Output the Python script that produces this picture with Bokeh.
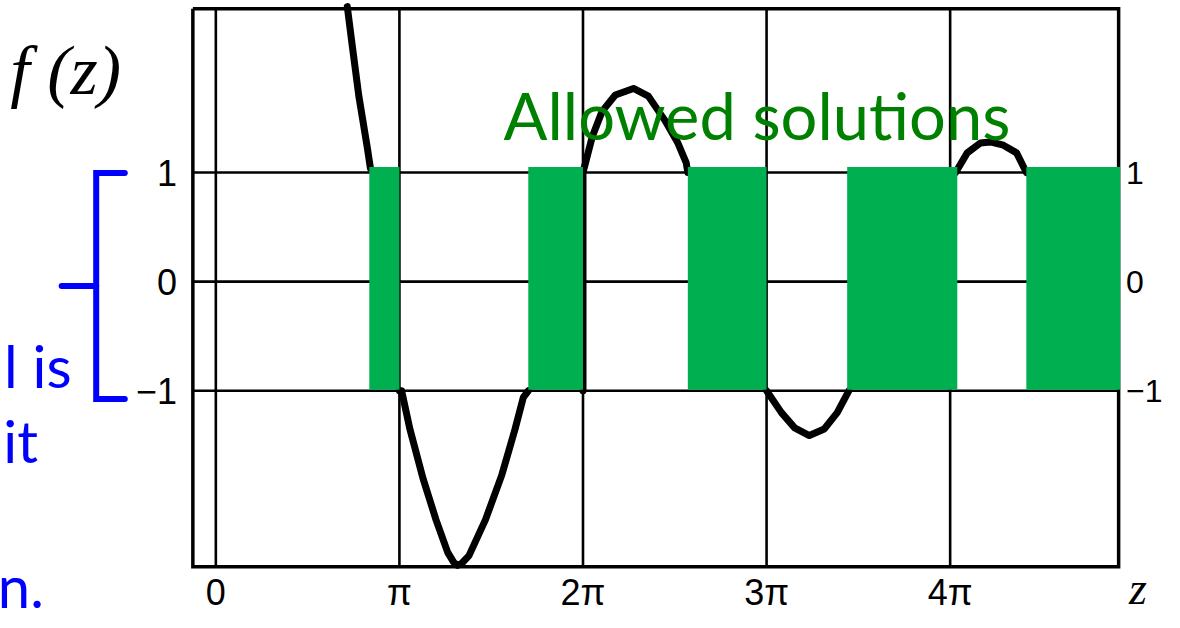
from bokeh.plotting import figure
from bokeh.models import Range1d
from bokeh.embed import file_html
from bokeh.resources import INLINE
from bokeh.core.properties import value

# ---------------- data (z in units of pi, f(z) values) ----------------
x_ticks = [0, 1, 2, 3, 4]
x_tick_labels = ["0", "π", "2π", "3π", "4π"]
y_ticks = [1, 0, -1]
y_tick_labels = ["1", "0", "−1"]

# allowed bands (green)
band_start = [0.836, 1.702, 2.571, 3.439, 4.415]
band_end = [1.000, 2.000, 3.000, 4.039, 4.926]
band_low = -0.99
band_high = 1.05

# visible pieces of the curve f(z)
seg1_z = [0.716, 0.744, 0.779, 0.824, 0.842]
seg1_f = [2.52, 2.15, 1.70, 1.24, 1.04]
seg2_z = [1.000, 1.012, 1.057, 1.128, 1.199, 1.263, 1.295, 1.317, 1.340, 1.379, 1.469, 1.558, 1.630, 1.675, 1.702]
seg2_f = [-1.00, -1.00, -1.35, -1.80, -2.18, -2.48, -2.57, -2.60, -2.58, -2.51, -2.18, -1.77, -1.35, -1.06, -1.00]
seg3_z = [2.000, 2.000, 2.051, 2.104, 2.176, 2.275, 2.356, 2.445, 2.517, 2.562, 2.571]
seg3_f = [-1.00, 1.00, 1.33, 1.56, 1.71, 1.77, 1.70, 1.48, 1.27, 1.09, 1.00]
seg4_z = [3.000, 3.081, 3.153, 3.233, 3.314, 3.385, 3.448]
seg4_f = [-1.00, -1.20, -1.34, -1.41, -1.35, -1.20, -1.00]
seg5_z = [4.030, 4.093, 4.165, 4.218, 4.290, 4.362, 4.415]
seg5_f = [1.00, 1.18, 1.27, 1.28, 1.25, 1.18, 1.00]

title_text = "Allowed solutions"
ylabel_text = "f (z)"
xlabel_text = "z"
side_texts = ["l is", "it", "n."]

# ---------------- layout helpers (reference pixel -> data) ----------------
PX_Z0, PX_PER_PI = 218.3, 186.1
PY_F0, PY_PER_UNIT = 288.5, 112.0
REF_W, REF_H = 1180, 628


def zx(px):
    return (px - PX_Z0) / PX_PER_PI


def fy(py):
    return (PY_F0 - py) / PY_PER_UNIT


W, H = 1164, 612
p = figure(width=W, height=H, output_backend="svg", toolbar_location=None,
           x_range=Range1d(zx(0), zx(REF_W)), y_range=Range1d(fy(REF_H), fy(0)),
           x_axis_type=None, y_axis_type=None, min_border=0,
           min_border_left=0, min_border_right=0, min_border_top=0, min_border_bottom=0)
p.grid.visible = False
p.outline_line_color = None
p.background_fill_color = "white"
p.border_fill_color = "white"

left, right, top, bottom = zx(195), zx(1133.5), fy(8.5), fy(581)

# grid lines
p.segment(x0=x_ticks, y0=[bottom] * len(x_ticks), x1=x_ticks, y1=[top] * len(x_ticks),
          line_color="black", line_width=2.6)
p.segment(x0=[left] * len(y_ticks), y0=y_ticks, x1=[right] * len(y_ticks), y1=y_ticks,
          line_color="black", line_width=2.6)
# frame
p.multi_line(xs=[[left, right, right, left, left]], ys=[[top, top, bottom, bottom, top]],
             line_color="black", line_width=3.5, line_join="miter")

# curve
p.multi_line(xs=[seg1_z, seg2_z, seg3_z, seg4_z, seg5_z],
             ys=[seg1_f, seg2_f, seg3_f, seg4_f, seg5_f],
             line_color="black", line_width=7, line_join="round", line_cap="round")

# allowed bands
p.quad(left=band_start, right=band_end, bottom=[band_low] * len(band_start),
       top=[band_high] * len(band_start), fill_color="#00B050", line_color=None)

# tick labels
p.text(x=x_ticks, y=[fy(607)] * len(x_ticks), text=x_tick_labels,
       text_font=value("Liberation Sans"), text_font_size="36px", text_color="black",
       text_align="center", text_baseline="middle")
p.text(x=[zx(179)] * len(y_ticks), y=y_ticks, text=y_tick_labels,
       text_font=value("Liberation Sans"), text_font_size="36px", text_color="black",
       text_align="right", text_baseline="middle")
p.text(x=[zx(1141)] * len(y_ticks), y=y_ticks, text=y_tick_labels,
       text_font=value("Liberation Sans"), text_font_size="32px", text_color="black",
       text_align="left", text_baseline="middle")

# axis names
p.text(x=[zx(10)], y=[fy(72)], text=[ylabel_text], text_font=value("Liberation Serif"),
       text_font_style="italic", text_font_size="70px", text_color="black",
       text_align="left", text_baseline="alphabetic")
p.text(x=[zx(1144)], y=[fy(603)], text=[xlabel_text], text_font=value("Liberation Serif"),
       text_font_style="italic", text_font_size="46px", text_color="black",
       text_align="left", text_baseline="alphabetic")

# green annotation
p.text(x=[zx(510)], y=[fy(118)], text=[title_text], text_font=value("Lato"),
       text_font_size="65px", text_color="#008000", text_align="left",
       text_baseline="alphabetic")

# blue bracket and side text
p.multi_line(xs=[[zx(126), zx(97), zx(97), zx(126)], [zx(62), zx(97)]],
             ys=[[fy(177), fy(177), fy(409), fy(409)], [fy(293), fy(293)]],
             line_color="#0000FF", line_width=6, line_join="miter", line_cap="round")
p.text(x=[zx(72), zx(38), zx(44)], y=[fy(375), fy(452), fy(600)], text=side_texts,
       text_font=value("Lato"), text_font_size="58px", text_color="#0000FF",
       text_align="right", text_baseline="alphabetic")

open("out.html", "w").write(file_html(p, INLINE))
